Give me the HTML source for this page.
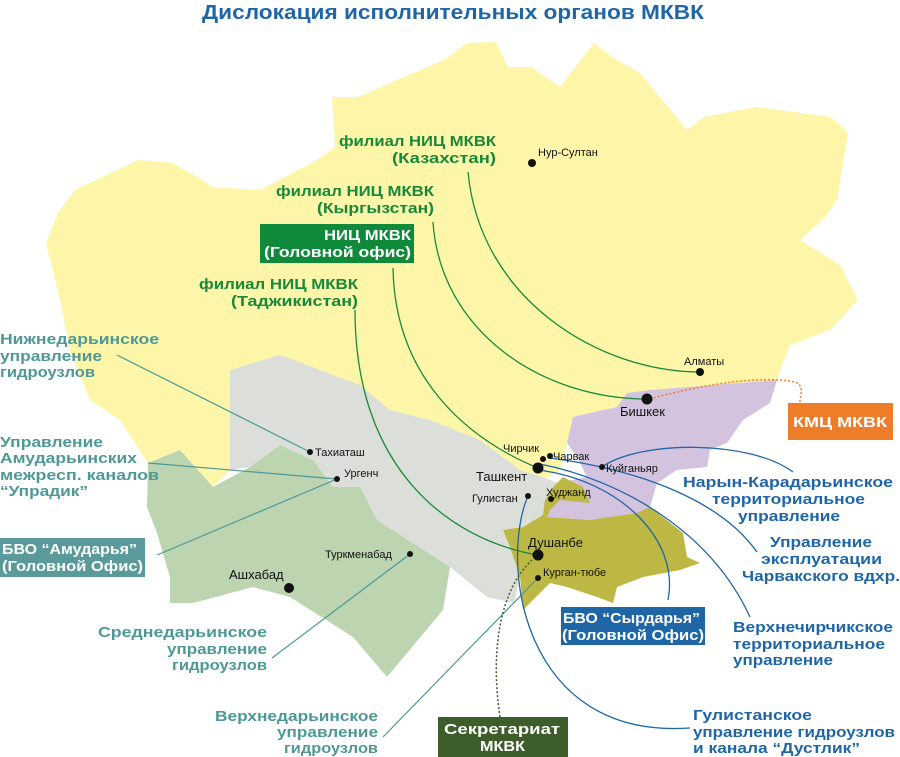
<!DOCTYPE html>
<html><head><meta charset="utf-8"><style>
body{margin:0;background:#fff;}
svg{display:block;}
text{font-family:"Liberation Sans",sans-serif;font-weight:bold;}
.g{fill:#17893a;font-size:15px;}
.t{fill:#4e9898;font-size:15px;}
.b{fill:#1f66a6;font-size:15px;}
.c{fill:#111;font-weight:normal;font-size:11px;}
.w{fill:#fff;font-size:15px;}
</style></head><body>
<svg width="900" height="757" viewBox="0 0 900 757" xmlns="http://www.w3.org/2000/svg">
<text x="202" y="19" textLength="502" lengthAdjust="spacingAndGlyphs" style="fill:#1f66a6;font-size:20px;">Дислокация исполнительных органов МКВК</text>
<!-- Kazakhstan -->
<polygon fill="#fdf6a8" points="46,243 58,213 75,190 138,160 173,163 202,180 213,187 260,190 317,160 335,147 332,97 358,97 404,77 444,60 467,43 496,42 508,67 531,67 560,87 594,43 612,57 640,73 687,130 704,117 756,107 831,117 848,133 837,200 825,217 800,240 840,265 858,300 830,330 790,345 780,370 777,380 650,390 617,407 590,413 573,417 567,443 560,470 543,480 520,470 480,440 430,420 390,410 360,385 300,370 230,370 230,470 213,487 180,450 148,463 120,420 90,400 70,350 60,300"/>
<!-- Uzbekistan -->
<polygon fill="#dcdfd9" points="230,370 280,355 360,385 390,410 430,420 480,440 520,470 545,478 557,483 560,497 543,503 547,517 523,527 503,530 510,547 520,577 514,603 487,597 450,567 377,520 360,487 333,487 313,460 280,445 250,467 230,470"/>
<!-- Turkmenistan -->
<polygon fill="#bcd4b0" points="148,463 180,450 213,487 250,467 280,445 313,460 333,487 360,487 377,520 450,567 443,610 387,677 353,637 290,597 253,587 193,603 170,603 170,577 157,533 147,507"/>
<!-- Kyrgyzstan -->
<polygon fill="#d4c3df" points="627,393 650,390 777,380 770,403 743,420 727,443 710,450 707,467 677,470 657,483 650,507 637,513 613,517 590,520 547,517 543,503 560,497 557,483 587,477 577,457 567,443 573,417 590,413 617,407"/>
<!-- Tajikistan -->
<polygon fill="#bdb843" points="563,477 583,487 590,503 560,500 550,510 547,517 590,520 637,513 650,507 683,533 687,557 700,563 680,570 643,577 617,587 613,603 597,597 567,587 550,583 530,603 523,610 520,577 510,547 503,530 523,527 543,515 545,500 555,485"/>
<!-- green curves -->
<g fill="none" stroke="#17893a" stroke-width="1.3">
<path d="M468,172 C480,300 600,372 700,372"/>
<path d="M433,222 C440,330 540,399 647,399"/>
<path d="M393,268 C395,380 470,440 538,468"/>
<path d="M355,310 C355,470 450,540 538,555"/>
</g>
<!-- teal lines -->
<g stroke="#4e9898" stroke-width="1.2" fill="none">
<line x1="117" y1="355" x2="310" y2="452"/>
<line x1="148" y1="463" x2="337" y2="479"/>
<line x1="157" y1="555" x2="337" y2="479"/>
<line x1="272" y1="658" x2="410" y2="554"/>
<line x1="383" y1="737" x2="538" y2="578"/>
</g>
<!-- blue curves -->
<g fill="none" stroke="#1f66a6" stroke-width="1.3">
<path d="M602,467 C640,440 750,440 793,472"/>
<path d="M550,458 C640,470 720,500 757,552"/>
<path d="M540,464 C620,480 710,530 750,617"/>
<path d="M538,470 C620,480 680,540 668,600"/>
<path d="M528,496 C500,560 520,740 690,728"/>
</g>
<path d="M650,399 C700,385 760,375 795,382 C805,386 800,395 800,403" fill="none" stroke="#ee7d2a" stroke-width="1.5" stroke-dasharray="2,2"/>
<path d="M532,560 C500,590 490,650 500,717" fill="none" stroke="#3d5e2a" stroke-width="1.5" stroke-dasharray="2,2"/>
<!-- cities -->
<g fill="#111">
<circle cx="532" cy="163" r="4"/><circle cx="700" cy="372" r="4"/><circle cx="647" cy="399" r="5.5"/>
<circle cx="543" cy="459" r="3"/><circle cx="550" cy="456" r="3"/><circle cx="538" cy="468" r="5.5"/>
<circle cx="602" cy="467" r="3"/><circle cx="528" cy="496" r="3"/><circle cx="551" cy="499" r="3"/>
<circle cx="538" cy="555" r="5.5"/><circle cx="538" cy="578" r="3"/><circle cx="310" cy="452" r="3"/>
<circle cx="337" cy="479" r="3"/><circle cx="410" cy="554" r="3"/><circle cx="289" cy="588" r="5"/>
</g>
<text class="c" x="538" y="156">Нур-Султан</text>
<text class="c" x="684" y="365">Алматы</text>
<text class="c" x="620" y="416" style="font-size:13px">Бишкек</text>
<text class="c" x="503" y="452">Чирчик</text>
<text class="c" x="553" y="460">Чарвак</text>
<text class="c" x="476" y="481" style="font-size:13px">Ташкент</text>
<text class="c" x="606" y="472">Куйганьяр</text>
<text class="c" x="472" y="502">Гулистан</text>
<text class="c" x="546" y="496">Худжанд</text>
<text class="c" x="528" y="547" style="font-size:13px">Душанбе</text>
<text class="c" x="543" y="576">Курган-тюбе</text>
<text class="c" x="315" y="456">Тахиаташ</text>
<text class="c" x="344" y="477">Ургенч</text>
<text class="c" x="325" y="558">Туркменабад</text>
<text class="c" x="229" y="579" style="font-size:13px">Ашхабад</text>
<!-- green labels -->
<text class="g" x="339" y="146" textLength="157" lengthAdjust="spacingAndGlyphs">филиал НИЦ МКВК</text>
<text class="g" x="392" y="163" textLength="104" lengthAdjust="spacingAndGlyphs">(Казахстан)</text>
<text class="g" x="276" y="196" textLength="158" lengthAdjust="spacingAndGlyphs">филиал НИЦ МКВК</text>
<text class="g" x="317" y="213" textLength="117" lengthAdjust="spacingAndGlyphs">(Кыргызстан)</text>
<rect x="260" y="224" width="154" height="39" fill="#0f8a3a"/>
<text class="w" x="324" y="240" textLength="87" lengthAdjust="spacingAndGlyphs">НИЦ МКВК</text>
<text class="w" x="264" y="257" textLength="147" lengthAdjust="spacingAndGlyphs">(Головной офис)</text>
<text class="g" x="199" y="289" textLength="159" lengthAdjust="spacingAndGlyphs">филиал НИЦ МКВК</text>
<text class="g" x="231" y="306" textLength="127" lengthAdjust="spacingAndGlyphs">(Таджикистан)</text>
<!-- teal labels -->
<text class="t" x="0" y="344" textLength="159" lengthAdjust="spacingAndGlyphs">Нижнедарьинское</text>
<text class="t" x="0" y="361" textLength="102" lengthAdjust="spacingAndGlyphs">управление</text>
<text class="t" x="0" y="377" textLength="95" lengthAdjust="spacingAndGlyphs">гидроузлов</text>
<text class="t" x="0" y="447" textLength="103" lengthAdjust="spacingAndGlyphs">Управление</text>
<text class="t" x="0" y="463" textLength="137" lengthAdjust="spacingAndGlyphs">Амударьинских</text>
<text class="t" x="0" y="480" textLength="159" lengthAdjust="spacingAndGlyphs">межресп. каналов</text>
<text class="t" x="0" y="496" textLength="88" lengthAdjust="spacingAndGlyphs">“Упрадик”</text>
<rect x="0" y="538" width="145" height="39" fill="#5a9a9a"/>
<text class="w" x="2" y="554" textLength="135" lengthAdjust="spacingAndGlyphs">БВО “Амударья”</text>
<text class="w" x="2" y="571" textLength="141" lengthAdjust="spacingAndGlyphs">(Головной Офис)</text>
<text class="t" x="98" y="637" textLength="169" lengthAdjust="spacingAndGlyphs">Среднедарьинское</text>
<text class="t" x="167" y="654" textLength="100" lengthAdjust="spacingAndGlyphs">управление</text>
<text class="t" x="172" y="670" textLength="95" lengthAdjust="spacingAndGlyphs">гидроузлов</text>
<text class="t" x="215" y="721" textLength="163" lengthAdjust="spacingAndGlyphs">Верхнедарьинское</text>
<text class="t" x="277" y="737" textLength="101" lengthAdjust="spacingAndGlyphs">управление</text>
<text class="t" x="284" y="753" textLength="94" lengthAdjust="spacingAndGlyphs">гидроузлов</text>
<rect x="438" y="717" width="130" height="40" fill="#3d5e2a"/>
<text class="w" x="444" y="734" textLength="116" lengthAdjust="spacingAndGlyphs">Секретариат</text>
<text class="w" x="480" y="751" textLength="45" lengthAdjust="spacingAndGlyphs">МКВК</text>
<rect x="788" y="403" width="105" height="37" fill="#ee7d2a"/>
<text class="w" x="793" y="427" textLength="94" lengthAdjust="spacingAndGlyphs">КМЦ  МКВК</text>
<!-- blue labels -->
<text class="b" x="683" y="487" textLength="210" lengthAdjust="spacingAndGlyphs">Нарын-Карадарьинское</text>
<text class="b" x="712" y="504" textLength="153" lengthAdjust="spacingAndGlyphs">территориальное</text>
<text class="b" x="738" y="521" textLength="102" lengthAdjust="spacingAndGlyphs">управление</text>
<text class="b" x="770" y="547" textLength="102" lengthAdjust="spacingAndGlyphs">Управление</text>
<text class="b" x="761" y="564" textLength="121" lengthAdjust="spacingAndGlyphs">эксплуатации</text>
<text class="b" x="742" y="581" textLength="158" lengthAdjust="spacingAndGlyphs">Чарвакского вдхр.</text>
<rect x="561" y="607" width="144" height="38" fill="#1f66a6"/>
<text class="w" x="563" y="623" textLength="137" lengthAdjust="spacingAndGlyphs">БВО “Сырдарья”</text>
<text class="w" x="562" y="640" textLength="142" lengthAdjust="spacingAndGlyphs">(Головной Офис)</text>
<text class="b" x="733" y="632" textLength="160" lengthAdjust="spacingAndGlyphs">Верхнечирчикское</text>
<text class="b" x="733" y="649" textLength="152" lengthAdjust="spacingAndGlyphs">территориальное</text>
<text class="b" x="733" y="665" textLength="100" lengthAdjust="spacingAndGlyphs">управление</text>
<text class="b" x="693" y="720" textLength="119" lengthAdjust="spacingAndGlyphs">Гулистанское</text>
<text class="b" x="693" y="737" textLength="202" lengthAdjust="spacingAndGlyphs">управление гидроузлов</text>
<text class="b" x="693" y="753" textLength="167" lengthAdjust="spacingAndGlyphs">и канала “Дустлик”</text>
</svg>
</body></html>
